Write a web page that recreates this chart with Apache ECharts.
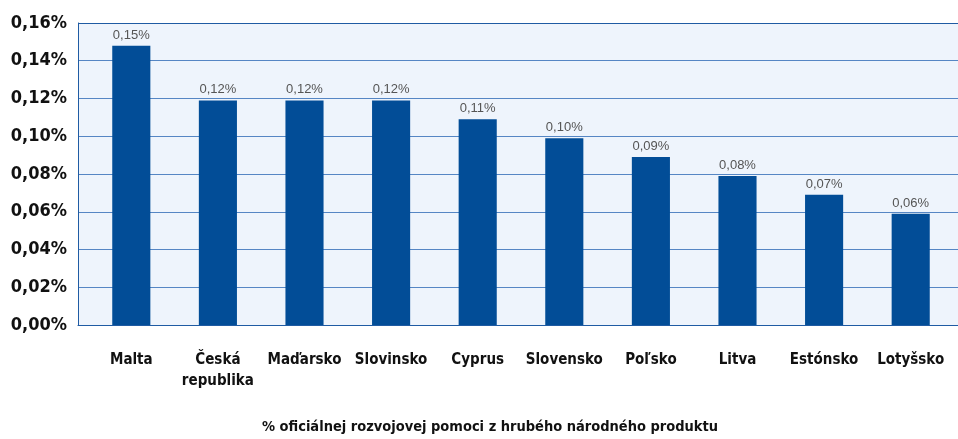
<!DOCTYPE html>
<html>
<head>
<meta charset="utf-8">
<script src="https://cdn.jsdelivr.net/npm/echarts@6/dist/echarts.min.js"></script>
<style>html,body{margin:0;padding:0;background:#fff}#c{width:958px;height:439px}</style>
</head>
<body>
<div id="c"></div>
<script>
var categories = ['Malta', 'Česká\nrepublika', 'Maďarsko', 'Slovinsko', 'Cyprus', 'Slovensko', 'Poľsko', 'Litva', 'Estónsko', 'Lotyšsko'];
var values = [0.148, 0.119, 0.119, 0.119, 0.109, 0.099, 0.089, 0.079, 0.069, 0.059];
var yTicks = { min: 0, max: 0.16, interval: 0.02 };
var axisTitle = '% oficiálnej rozvojovej pomoci z hrubého národného produktu';

function pct(v) { return v.toFixed(2).replace('.', ',') + '%'; }

var condFont = '"DejaVu Sans Condensed", "Liberation Sans Narrow", sans-serif';
var chart = echarts.init(document.getElementById('c'), null, { renderer: 'canvas' });
var gridLineColors = ['#1f5ba3', '#5586c4', '#5586c4', '#5586c4', '#5586c4', '#5586c4', '#5586c4', '#5586c4', '#1f5ba3'];
chart.setOption({
  animation: false,
  grid: [
    { left: 88, right: 4, top: 23, bottom: 114 },
    { left: 78, right: 0, top: 23, bottom: 114, show: true, backgroundColor: '#eef4fc', borderWidth: 0 }
  ],
  xAxis: [
    { gridIndex: 0, type: 'category', data: categories,
      axisLine: { show: false }, axisTick: { show: false },
      axisLabel: { interval: 0, margin: 25, color: '#111', fontFamily: condFont, fontWeight: 'bold', fontSize: 15, lineHeight: 21 } },
    { gridIndex: 1, type: 'category', data: [''],
      axisLine: { show: true, lineStyle: { color: '#1f5ba3', width: 1 } }, axisTick: { show: false }, axisLabel: { show: false } }
  ],
  yAxis: [
    { gridIndex: 0, type: 'value', min: yTicks.min, max: yTicks.max, interval: yTicks.interval, show: false },
    { gridIndex: 1, type: 'value', min: yTicks.min, max: yTicks.max, interval: yTicks.interval,
      axisLine: { show: true, lineStyle: { color: '#1f5ba3', width: 1 } }, axisTick: { show: false },
      splitLine: { show: true, lineStyle: { color: gridLineColors, width: 1 } },
      axisLabel: { margin: 11, formatter: pct, color: '#111', fontFamily: condFont, fontWeight: 'bold', fontSize: 18 } }
  ],
  series: [{
    type: 'bar', xAxisIndex: 0, yAxisIndex: 0, data: values, barWidth: '44%',
    itemStyle: { color: '#024d97' },
    label: { show: true, position: 'top', distance: 4, color: '#555', fontFamily: 'Liberation Sans', fontSize: 13,
      formatter: function (p) { return pct(p.value); } }
  }],
  graphic: [{
    type: 'text', x: 490, y: 420,
    style: { text: axisTitle, textAlign: 'center', fill: '#111', font: 'bold 14.5px ' + condFont }
  }]
});
</script>
</body>
</html>
